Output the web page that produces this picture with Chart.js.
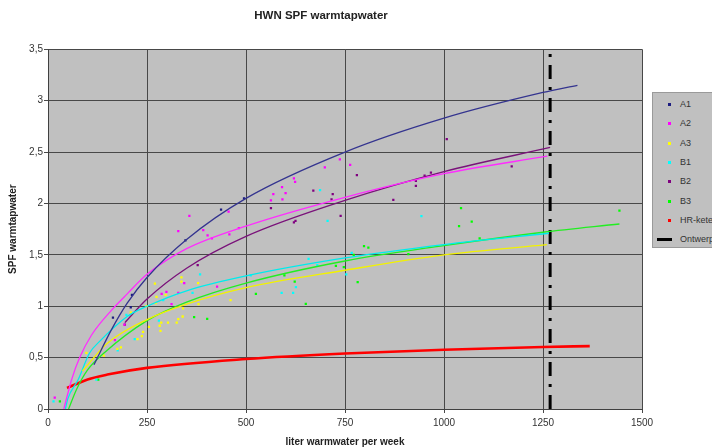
<!DOCTYPE html>
<html><head><meta charset="utf-8">
<script src="https://cdn.jsdelivr.net/npm/chart.js@4"></script>
<style>
html,body{margin:0;padding:0;background:#fff;overflow:hidden;width:712px;height:448px;}
#wrap{position:relative;width:712px;height:448px;overflow:hidden;}
canvas{position:absolute;left:0;top:0;}
#legend{position:absolute;left:652px;top:92px;width:80px;height:156px;background:#c0c0c0;border:1px solid #9a9a9a;box-sizing:border-box;font-family:'Liberation Sans',Arial,sans-serif;font-size:9px;color:#333;}
.item{position:absolute;left:0;width:80px;height:12px;line-height:12px;white-space:nowrap;}
.mk{position:absolute;}
.lb{position:absolute;left:27px;top:0;}
</style></head>
<body><div id="wrap"><canvas id="c" width="712" height="448"></canvas><div id="legend"></div></div>
<script>
// ---- data ----
const xTicks = [0, 250, 500, 750, 1000, 1250, 1500];
const yTicks = [0, 0.5, 1, 1.5, 2, 2.5, 3, 3.5];
const seriesNames = ['A1', 'A2', 'A3', 'B1', 'B2', 'B3', 'HR-ketel', 'Ontwerp'];

const a1Points = [[164,0.89],[209,0.99],[212,1.11],[347,1.64],[437,1.94],[495,2.05]];
const a2Points = [[17,0.11],[169,0.67],[193,0.82],[287,1.12],[299,1.14],[312,1.02],[329,1.13],[329,1.73],[344,1.225],[357,1.88],[392,1.74],[403,1.69],[414,1.66],[427,1.19],[456,1.92],[458,1.70],[482,1.76],[563,2.03],[569,2.09],[591,2.16],[600,2.10],[592,2.04],[621,2.245],[624,2.21],[699,2.35],[737,2.43],[763,2.375]];
const a3Points = [[97,0.545],[141,0.52],[175,0.585],[184,0.60],[209,0.94],[226,0.68],[237,0.71],[240,0.75],[249,1.0],[255,0.80],[270,1.22],[272,1.03],[274,1.09],[282,0.81],[284,0.76],[286,0.84],[297,1.11],[303,0.84],[325,0.84],[329,0.875],[337,1.28],[337,1.24],[340,0.90],[341,0.98],[379,1.225],[380,1.02],[461,1.06]];
const b1Points = [[14,0.075],[122,0.285],[176,0.57],[198,0.915],[219,0.68],[280,0.86],[291,1.06],[365,1.13],[384,1.31],[512,1.30],[590,1.13],[619,1.13],[626,1.186],[658,1.46],[680,1.40],[687,2.13],[706,1.83],[753,1.31],[767,1.52],[943,1.876]];
const b2Points = [[194,0.82],[378,1.40],[563,1.955],[621,1.815],[625,1.83],[670,2.125],[716,2.04],[719,2.09],[739,1.88],[780,2.275],[872,2.035],[929,2.22],[929,2.17],[951,2.27],[967,2.30],[1007,2.625],[1171,2.36]];
const b3Points = [[30,0.075],[127,0.285],[369,0.894],[402,0.878],[525,1.12],[597,1.30],[623,1.24],[651,1.024],[727,1.393],[747,1.38],[772,1.50],[782,1.235],[798,1.585],[809,1.57],[910,1.507],[1038,1.78],[1043,1.954],[1070,1.824],[1090,1.66],[1443,1.93]];

const a1Trend = [[116,0.43],[160,0.77],[200,1.03],[250,1.28],[350,1.65],[500,2.05],[750,2.50],[1000,2.83],[1250,3.08],[1337,3.15]];
const a2Trend = [[40,0],[60,0.29],[80,0.50],[110,0.72],[160,0.96],[200,1.12],[250,1.31],[350,1.56],[500,1.78],[750,2.06],[1000,2.29],[1261,2.46]];
const a3Trend = [[87,0.37],[150,0.64],[250,0.87],[350,1.02],[500,1.18],[750,1.35],[1000,1.50],[1260,1.60]];
const b1Trend = [[44,0],[50,0.10],[76,0.285],[105,0.545],[131,0.66],[200,0.90],[250,1.0],[350,1.15],[500,1.295],[750,1.47],[1000,1.60],[1265,1.71]];
const b2Trend = [[194,0.84],[250,1.07],[350,1.37],[500,1.68],[750,2.03],[1000,2.31],[1268,2.545]];
const b3Trend = [[52,0],[72,0.19],[100,0.38],[143,0.55],[250,0.86],[350,1.04],[500,1.225],[750,1.44],[1000,1.59],[1250,1.72],[1443,1.80]];
const hrTrend = [[48,0.204],[100,0.288],[150,0.335],[250,0.40],[500,0.486],[750,0.54],[1000,0.577],[1250,0.603],[1368,0.612]];
const ontwerpLine = [[1268,0],[1268,3.5]];

// ---- styles ----
const pointColors = ['#1c1c80','#ff00ff','#ffff00','#00ffff','#800080','#00ff00','#ff0000'];
const lineColors  = ['#34348f','#ff2cff','#f2f200','#00ecec','#7a127a','#22ee22','#ff0000'];

const toXY = arr => arr.map(([x, y]) => ({x, y}));
const pointSets = [a1Points, a2Points, a3Points, b1Points, b2Points, b3Points];
const trendSets = [a1Trend, a2Trend, a3Trend, b1Trend, b2Trend, b3Trend];

const datasets = [];
trendSets.forEach((t, i) => {
  datasets.push({label: seriesNames[i] + ' trend', data: toXY(t), showLine: true, borderColor: lineColors[i],
    borderWidth: 1.3, pointRadius: 0, cubicInterpolationMode: 'monotone', fill: false});
});
datasets.push({label: seriesNames[6], data: toXY(hrTrend), showLine: true, borderColor: lineColors[6],
  borderWidth: 2.6, pointRadius: 0, cubicInterpolationMode: 'monotone', fill: false});
pointSets.forEach((p, i) => {
  datasets.push({label: seriesNames[i], data: toXY(p), showLine: false, pointStyle: 'rect',
    pointRadius: 1.6, pointBorderWidth: 0, backgroundColor: pointColors[i], borderColor: pointColors[i]});
});
datasets.push({label: seriesNames[7], data: toXY(ontwerpLine), showLine: true, borderColor: '#000',
  borderWidth: 3, borderDash: [14, 8, 3, 8], pointRadius: 0, fill: false});

const bgPlugin = {
  id: 'plotBg',
  beforeDraw(chart) {
    const {ctx, chartArea: a} = chart;
    ctx.save();
    ctx.fillStyle = '#c0c0c0';
    ctx.fillRect(a.left, a.top, a.right - a.left, a.bottom - a.top);
    ctx.restore();
  }
};

Chart.defaults.font.family = "'Liberation Sans', Arial, sans-serif";
Chart.defaults.color = '#333';

new Chart(document.getElementById('c'), {
  type: 'scatter',
  data: {datasets},
  plugins: [bgPlugin],
  options: {
    responsive: false,
    animation: false,
    events: [],
    layout: {padding: {left: 0, right: 70, top: 0, bottom: 0}},
    plugins: {
      legend: {display: false},
      tooltip: {enabled: false},
      title: {display: true, text: 'HWN SPF warmtapwater', color: '#222',
        font: {size: 11.5, weight: 'bold'}, padding: {top: 9, bottom: 26.5}}
    },
    scales: {
      x: {
        type: 'linear', min: xTicks[0], max: xTicks[xTicks.length - 1],
        afterBuildTicks: s => { s.ticks = xTicks.map(v => ({value: v})); },
        afterFit: s => { s.height = 39; },
        ticks: {font: {size: 10}, color: '#333', padding: 4, maxRotation: 0,
          callback: v => String(v)},
        grid: {color: '#484848', lineWidth: 1, tickLength: 4, tickColor: '#484848'},
        border: {color: '#404040', width: 1},
        title: {display: true, text: 'liter warmwater per week', color: '#222',
          font: {size: 10, weight: 'bold'}, padding: {top: 1, bottom: 0}}
      },
      y: {
        min: yTicks[0], max: yTicks[yTicks.length - 1],
        afterBuildTicks: s => { s.ticks = yTicks.map(v => ({value: v})); },
        afterFit: s => { s.width = 48; },
        ticks: {font: {size: 10}, color: '#333', padding: 1,
          callback: v => String(v).replace('.', ',')},
        grid: {color: '#484848', lineWidth: 1, tickLength: 4, tickColor: '#484848'},
        border: {color: '#404040', width: 1},
        title: {display: true, text: 'SPF warmtapwater', color: '#222',
          font: {size: 10, weight: 'bold'}, padding: {top: 7, bottom: 0}}
      }
    }
  }
});

// ---- legend (html, built from series names / colours) ----
const legend = document.getElementById('legend');
seriesNames.forEach((name, i) => {
  const item = document.createElement('div');
  item.className = 'item';
  item.style.top = (5 + i * 19.3) + 'px';
  const mk = document.createElement('span');
  mk.className = 'mk';
  if (i < 7) {
    mk.style.left = '15px'; mk.style.top = '5px'; mk.style.width = '3px'; mk.style.height = '3px';
    mk.style.background = pointColors[i];
  } else {
    mk.style.left = '4px'; mk.style.top = '5px'; mk.style.width = '15px'; mk.style.height = '3px';
    mk.style.background = '#000';
  }
  const lb = document.createElement('span');
  lb.className = 'lb';
  lb.textContent = name;
  item.appendChild(mk); item.appendChild(lb);
  legend.appendChild(item);
});
</script>
</body></html>
